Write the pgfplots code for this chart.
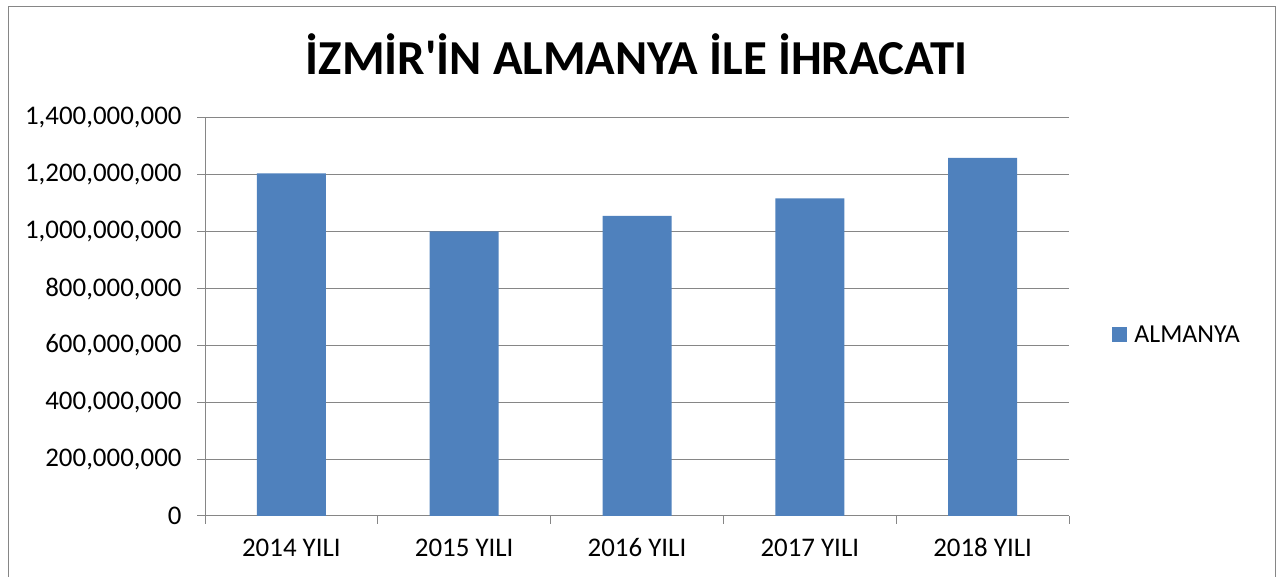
\documentclass[border=0pt]{standalone}
\usepackage{pgfplots}
\pgfplotsset{compat=1.18}
\usepackage{fontspec}
\setmainfont{Carlito}
\newfontfamily\titlefont{Carlito}
\definecolor{barblue}{HTML}{4F81BD}
\definecolor{axgray}{HTML}{868686}
\begin{document}
\begin{tikzpicture}[x=1bp,y=1bp]
\useasboundingbox (0,0) rectangle (1285,577);
\draw[axgray, line width=1.5bp] (8.5,-5) -- (8.5,570.5) -- (1275.5,570.5) -- (1275.5,-5);
\node[anchor=base, inner sep=0pt, font=\titlefont\fontsize{49}{57}\selectfont\bfseries] at (636.5,502) {İZMİR'İN ALMANYA İLE İHRACATI};
\begin{axis}[
  at={(205bp,61bp)}, anchor=south west,
  width=864bp, height=398bp, scale only axis,
  xmin=-0.5, xmax=4.5, ymin=0, ymax=1400000000,
  ytick={0,200000000,400000000,600000000,800000000,1000000000,1200000000,1400000000},
  axis x line*=bottom, axis y line*=left,
  axis line style={axgray, line width=1bp, -},
  ymajorgrids, grid style={axgray, line width=1bp},
  xtick={0,1,2,3,4},
  xticklabels={2014 YILI,2015 YILI,2016 YILI,2017 YILI,2018 YILI},
  major x tick style={draw=none},
  minor xtick={-0.5,0.5,1.5,2.5,3.5,4.5},
  tick align=outside, major tick length=8bp, minor tick length=8bp,
  tick style={axgray, line width=1bp},
  scaled y ticks=false,
  /pgf/number format/assume math mode=true,
  ticklabel style={font=\fontsize{27}{32}\selectfont, text=black},
  yticklabel style={xshift=-12bp, /pgf/number format/.cd, fixed, 1000 sep={,}},
  xticklabel style={anchor=base, inner sep=0pt, yshift=-33bp},
  ybar, bar width=69bp,
  legend style={at={(1.05,0.455)}, anchor=west, draw=none, fill=none,
    font=\fontsize{26}{31}\selectfont, inner sep=0pt, nodes={inner sep=0pt}},
  legend image code/.code={\fill[barblue] (0bp,-7.5bp) rectangle (15bp,7.5bp); \path (22bp,0bp);},
]
\addplot[fill=barblue, draw=none] coordinates {(0,1205000000) (1,1001000000) (2,1056000000) (3,1117000000) (4,1260000000)};
\addlegendentry{ALMANYA}
\end{axis}
\end{tikzpicture}
\end{document}
